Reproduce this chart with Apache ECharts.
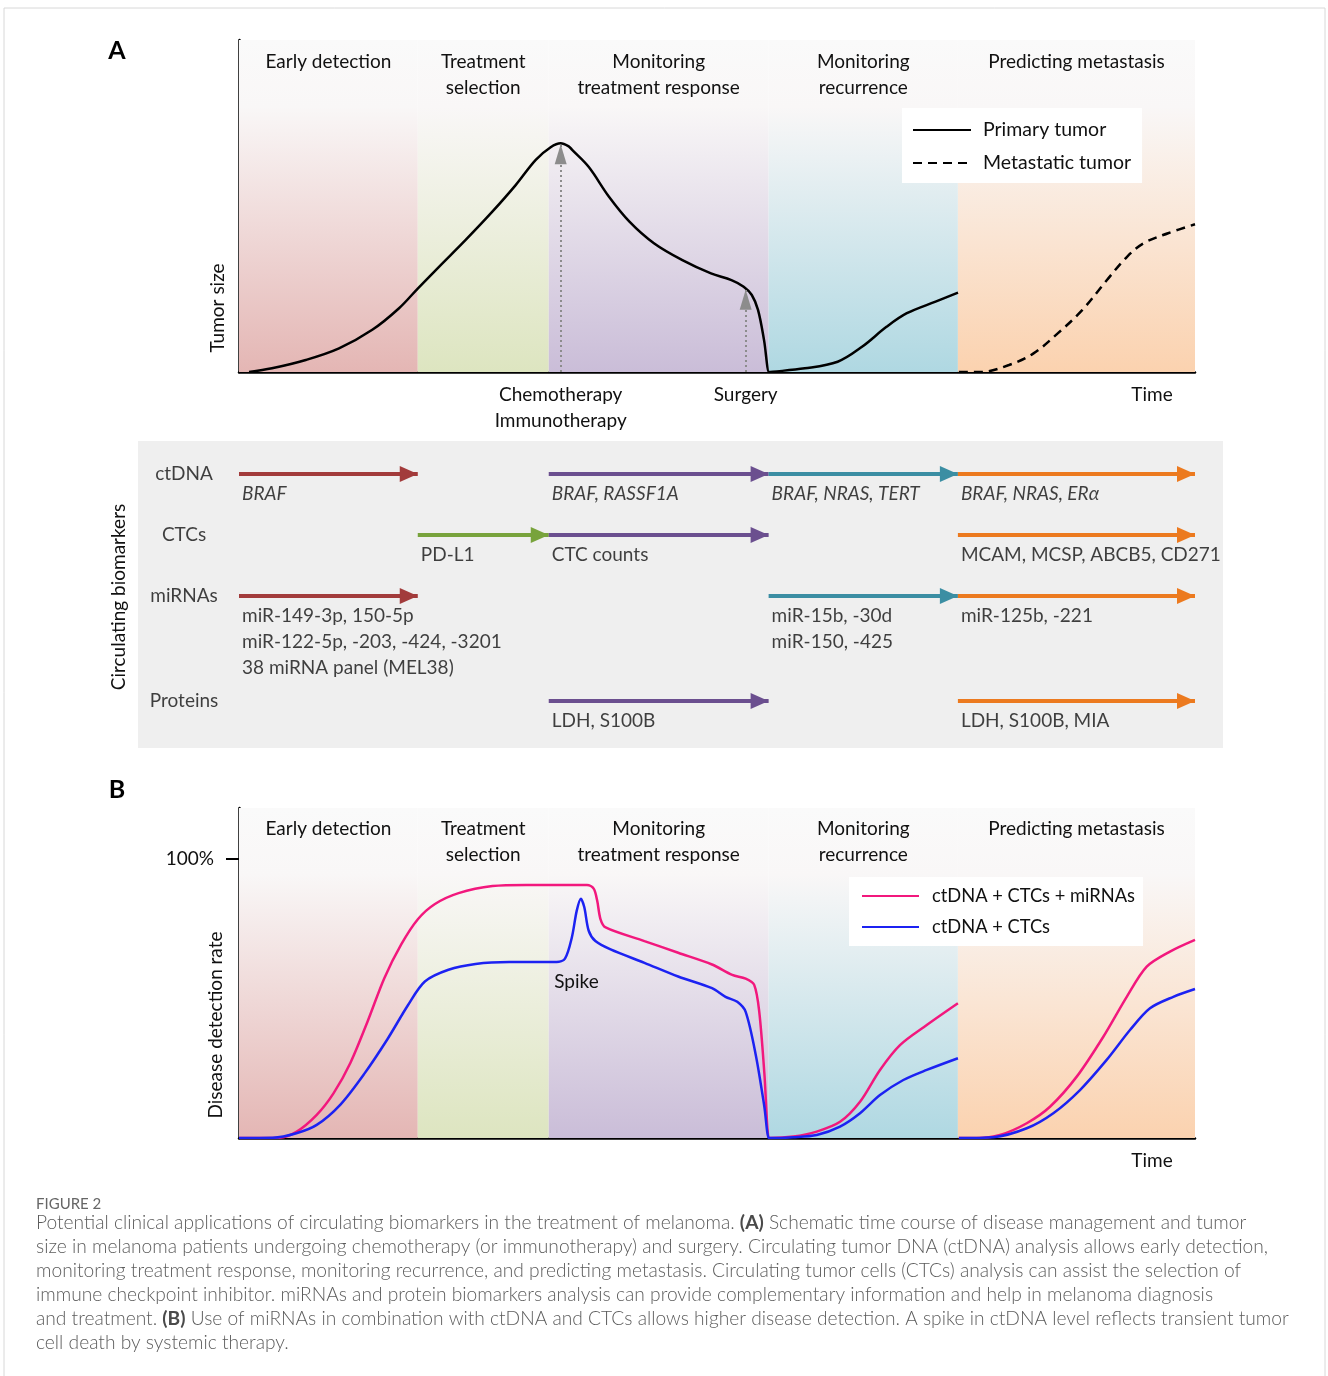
<!DOCTYPE html>
<html>
<head>
<meta charset="utf-8">
<title>Circulating biomarkers in melanoma</title>
<script src="https://cdn.jsdelivr.net/npm/echarts@6.0.0/dist/echarts.min.js"></script>
<style>
  html, body { margin: 0; padding: 0; background: #fff; }
  #chart { width: 1328px; height: 1376px; }
</style>
</head>
<body>
<div id="chart"></div>
<script>
// time axis runs 0..100 across both panels, phase edges on that scale
const xEdges = [0, 18.7, 32.4, 55.4, 75.2, 100];
const phaseNames = ['Early detection', 'Treatment\nselection', 'Monitoring\ntreatment response', 'Monitoring\nrecurrence', 'Predicting metastasis'];

// panel A: tumor size (0..100)
const primaryTumor = [
  [1.05, 0], [3.45, 1.1], [6.98, 3.6], [10.46, 7.1], [13.94, 12.7], [16.74, 19.2],
  [18.72, 25.2], [20.92, 31.7], [23.71, 39.8], [26.50, 48.3], [28.94, 56.3], [31.04, 63.9],
  [32.60, 67.7], [33.65, 68.9], [34.52, 67.9], [34.85, 66.9], [36.57, 61.8], [38.70, 52.8],
  [40.84, 45.3], [43.40, 38.8], [46.38, 33.7], [49.37, 29.7], [51.51, 27.7], [52.79, 25.7],
  [53.64, 23.2], [54.29, 18.7], [54.92, 9.6], [55.44, 0], [55.5, 0], [59.19, 1.1],
  [62.62, 3.1], [65.17, 7.6], [67.73, 13.6], [69.86, 17.7], [72.86, 21.2], [75.21, 23.9]
];
const metastaticTumor = [
  [75.3, 0], [77.57, 0], [80.54, 2.1], [83.11, 5.6], [85.67, 11.7], [88.22, 18.7],
  [90.79, 27.7], [92.89, 34.7], [94.63, 38.8], [97.18, 41.8], [100, 44.5]
];
const chemoArrow = [33.65, 68.6];
const surgeryArrow = [53.0, 24.8];

// middle panel: biomarker rows and arrows [row, phase]
const rowNames = ['ctDNA', 'CTCs', 'miRNAs', 'Proteins'];
const rowPos = [1, 2, 3, 4.72];
const arrows = [
  [0, 0], [0, 2], [0, 3], [0, 4],
  [1, 1], [1, 2], [1, 4],
  [2, 0], [2, 3], [2, 4],
  [3, 2], [3, 4]
];
const arrowLabels = [
  'BRAF', 'BRAF, RASSF1A', 'BRAF, NRAS, TERT', 'BRAF, NRAS, ERα',
  'PD-L1', 'CTC counts', 'MCAM, MCSP, ABCB5, CD271',
  'miR-149-3p, 150-5p\nmiR-122-5p, -203, -424, -3201\n38 miRNA panel (MEL38)', 'miR-15b, -30d\nmiR-150, -425', 'miR-125b, -221',
  'LDH, S100B', 'LDH, S100B, MIA'
];

// panel B: disease detection rate (%)
const comboAll = [
  [0, 0], [2.12, 0], [4.24, 0.1], [6.00, 2.2], [8.13, 8.3], [9.90, 16.1], [11.66, 27.0],
  [13.43, 41.6], [15.20, 57.3], [16.97, 69.4], [18.73, 78.5], [20.50, 83.9], [22.97, 87.8],
  [26.51, 90.3], [30.04, 90.7], [36.40, 90.7], [37.10, 89.4], [37.46, 85.2], [37.81, 78.5],
  [38.35, 75.5], [42.41, 70.6], [45.94, 66.4], [49.48, 62.2], [51.59, 58.5], [53.00, 57.1],
  [53.89, 54.9], [54.42, 45.2], [54.95, 23.4], [55.41, 0], [55.5, 0], [57.98, 0.5],
  [60.43, 2.3], [62.87, 5.8], [64.96, 13.0], [67.05, 24.4], [69.14, 33.3], [71.94, 40.5], [75.2, 48.3]
];
const comboAllMet = [
  [75.3, 0], [77.17, 0], [79.60, 1.1], [82.40, 5.3], [84.83, 11.2], [87.63, 22.0],
  [90.41, 36.3], [92.86, 50.6], [94.95, 61.4], [97.38, 66.8], [100, 71.0]
];
const ctdnaCtc = [
  [0, 0], [3.54, 0.1], [6.00, 1.7], [8.13, 4.7], [10.61, 12.0], [13.08, 22.9], [15.54, 35.5],
  [17.67, 47.6], [19.44, 56.1], [21.91, 60.3], [24.74, 62.4], [28.27, 63.1], [33.22, 63.1],
  [34.10, 64.3], [34.81, 71.8], [35.33, 81.5], [35.76, 85.8], [36.12, 82.7], [36.58, 74.3],
  [37.28, 70.6], [38.87, 67.6], [42.41, 62.8], [45.94, 57.9], [49.48, 53.7], [50.89, 50.6],
  [52.12, 48.8], [53.00, 45.2], [54.07, 29.5], [54.95, 11.3], [55.41, 0], [55.5, 0],
  [57.98, 0.3], [60.43, 1.1], [62.87, 4.1], [64.96, 8.9], [67.05, 15.4], [69.49, 20.8],
  [71.94, 24.4], [75.2, 28.6]
];
const ctdnaCtcMet = [
  [75.3, 0], [78.90, 0.3], [82.40, 3.5], [85.18, 8.9], [87.97, 17.2], [90.76, 28.0],
  [93.20, 38.7], [95.29, 46.5], [97.73, 50.6], [100, 53.4]
];
const spikeLabelAt = [35.3, 56];

const FONT = 'Lato';
const TXT = '#111';
const phaseColors = ['#a23b3b', '#78a33c', '#6b4f8f', '#3b8ea3', '#ec7a1f'];
const bandColors = ['#e4b6b4', '#dde5c0', '#cabdd8', '#afd8e2', '#fbd2af'];
const pink = '#f2187d';
const blue = '#1c22f2';
const NOSYM = 'rgba(0,0,0,0)';
// triangle whose tip sits at the symbol centre, so arrows end exactly on their coordinate
const headBig = 'path://M-20,-20 M20,20 M0,0 L8,18 L-8,18 Z';
const headThin = 'path://M-20,-20 M20,20 M0,0 L6,20 L-6,20 Z';

function bandGrad(c) {
  return {
    type: 'linear', x: 0, y: 0, x2: 0, y2: 1,
    colorStops: [
      { offset: 0, color: '#fafafa' },
      { offset: 0.2, color: '#f9f7f7' },
      { offset: 1, color: c }
    ]
  };
}

function bands(dist) {
  return {
    silent: true,
    label: {
      show: true, position: 'insideTop', distance: dist, color: TXT,
      fontFamily: FONT, fontSize: 19, lineHeight: 26
    },
    data: phaseNames.map((n, i) => [
      { name: n, xAxis: xEdges[i], itemStyle: { color: bandGrad(bandColors[i]) } },
      { xAxis: xEdges[i + 1] }
    ])
  };
}

const axisBlack = { show: true, lineStyle: { color: '#000', width: 2.5 } };

const chart = echarts.init(document.getElementById('chart'));

chart.setOption({
  backgroundColor: '#fff',
  animation: false,
  textStyle: { fontFamily: FONT },
  grid: [
    { left: 239, top: 40, width: 956, height: 332 },
    { left: 138, top: 441, width: 1085, height: 307, show: true, backgroundColor: '#efefef', borderWidth: 0 },
    { left: 239, top: 808, width: 956, height: 330 }
  ],
  xAxis: [
    { gridIndex: 0, type: 'value', min: 0, max: 100, axisLine: axisBlack, axisTick: { show: false }, axisLabel: { show: false }, splitLine: { show: false } },
    { gridIndex: 1, type: 'value', min: -10.565, max: 102.93, show: false },
    { gridIndex: 2, type: 'value', min: 0, max: 100, axisLine: axisBlack, axisTick: { show: false }, axisLabel: { show: false }, splitLine: { show: false } }
  ],
  yAxis: [
    { gridIndex: 0, type: 'value', min: 0, max: 100, axisLine: axisBlack, axisTick: { show: false }, axisLabel: { show: false }, splitLine: { show: false } },
    { gridIndex: 1, type: 'value', min: 0.46, max: 5.49, inverse: true, show: false },
    {
      gridIndex: 2, type: 'value', min: 0, max: 118.3, interval: 100,
      axisLine: axisBlack,
      axisTick: { show: true, customValues: [100], length: 13, lineStyle: { color: '#000', width: 2 } },
      axisLabel: { show: true, customValues: [100], formatter: '{value}%', color: TXT, fontSize: 19, fontFamily: FONT, margin: 25 },
      splitLine: { show: false }
    }
  ],
  legend: [
    {
      data: ['Primary tumor', 'Metastatic tumor'],
      orient: 'vertical', left: 902, top: 108,
      backgroundColor: '#fff', padding: [12, 11, 10, 10],
      itemWidth: 58, itemHeight: 20, itemGap: 13,
      textStyle: { fontSize: 19.5, color: TXT, fontFamily: FONT, padding: [0, 0, 0, 7] }
    },
    {
      data: ['ctDNA + CTCs + miRNAs', 'ctDNA + CTCs'],
      orient: 'vertical', left: 849, top: 877,
      backgroundColor: '#fff', padding: [10, 8, 10, 12],
      itemWidth: 57, itemHeight: 20, itemGap: 13,
      textStyle: { fontSize: 18.3, color: TXT, fontFamily: FONT, padding: [0, 0, 0, 8] }
    }
  ],
  series: [
    // panel A
    { type: 'line', xAxisIndex: 0, yAxisIndex: 0, data: [], silent: true, z: 1, markArea: bands(9) },
    {
      name: 'Primary tumor', type: 'line', xAxisIndex: 0, yAxisIndex: 0, z: 3,
      data: primaryTumor, smooth: 0.35, symbol: 'none',
      lineStyle: { color: '#000', width: 2.5 }, itemStyle: { color: NOSYM },
      markLine: {
        silent: true, symbol: ['none', headThin], symbolSize: 40,
        lineStyle: { color: '#8c8c8c', type: [2, 3], width: 2 },
        label: { show: true, position: 'start', distance: 10, formatter: '{b}', color: TXT, fontSize: 19, lineHeight: 26, fontFamily: FONT },
        data: [
          [{ name: 'Chemotherapy\nImmunotherapy', coord: [chemoArrow[0], 0] }, { coord: chemoArrow }],
          [{ name: 'Surgery', coord: [surgeryArrow[0], 0] }, { coord: surgeryArrow }]
        ]
      }
    },
    {
      name: 'Metastatic tumor', type: 'line', xAxisIndex: 0, yAxisIndex: 0, z: 3,
      data: metastaticTumor, smooth: 0.35, symbol: 'none',
      lineStyle: { color: '#000', width: 2.5, type: [9, 6] }, itemStyle: { color: NOSYM }
    },
    // middle panel arrows
    {
      type: 'lines', coordinateSystem: 'cartesian2d', xAxisIndex: 1, yAxisIndex: 1, silent: true,
      symbol: ['none', headBig], symbolSize: 40,
      lineStyle: { width: 4, opacity: 1 },
      data: arrows.map(a => ({
        coords: [[xEdges[a[1]], rowPos[a[0]]], [xEdges[a[1] + 1], rowPos[a[0]]]],
        lineStyle: { color: phaseColors[a[1]] }
      }))
    },
    {
      type: 'scatter', xAxisIndex: 1, yAxisIndex: 1, silent: true, symbolSize: 0,
      label: { show: true, position: [3, 7], align: 'left', verticalAlign: 'top', color: TXT, fontSize: 19, lineHeight: 26, fontFamily: FONT },
      data: arrows.map((a, i) => ({
        value: [xEdges[a[1]], rowPos[a[0]]],
        label: { formatter: arrowLabels[i], fontStyle: a[0] === 0 ? 'italic' : 'normal' }
      }))
    },
    {
      type: 'scatter', xAxisIndex: 1, yAxisIndex: 1, silent: true, symbolSize: 0,
      label: { show: true, position: 'inside', formatter: '{b}', color: TXT, fontSize: 19, fontFamily: FONT },
      data: rowNames.map((n, i) => ({ name: n, value: [-5.75, rowPos[i]] }))
    },
    // panel B
    { type: 'line', xAxisIndex: 2, yAxisIndex: 2, data: [], silent: true, z: 1, markArea: bands(8) },
    {
      name: 'ctDNA + CTCs + miRNAs', type: 'line', xAxisIndex: 2, yAxisIndex: 2, z: 3,
      data: comboAll, smooth: 0.3, symbol: 'none',
      lineStyle: { color: pink, width: 2.5 }, itemStyle: { color: NOSYM }
    },
    {
      name: 'ctDNA + CTCs + miRNAs', type: 'line', xAxisIndex: 2, yAxisIndex: 2, z: 3,
      data: comboAllMet, smooth: 0.3, symbol: 'none',
      lineStyle: { color: pink, width: 2.5 }, itemStyle: { color: NOSYM }
    },
    {
      name: 'ctDNA + CTCs', type: 'line', xAxisIndex: 2, yAxisIndex: 2, z: 4,
      data: ctdnaCtc, smooth: 0.3, symbol: 'none',
      lineStyle: { color: blue, width: 2.5 }, itemStyle: { color: NOSYM },
      markPoint: {
        silent: true, symbol: 'circle', symbolSize: 0,
        label: { show: true, position: 'inside', formatter: 'Spike', color: TXT, fontSize: 19, fontFamily: FONT },
        data: [{ coord: spikeLabelAt }]
      }
    },
    {
      name: 'ctDNA + CTCs', type: 'line', xAxisIndex: 2, yAxisIndex: 2, z: 4,
      data: ctdnaCtcMet, smooth: 0.3, symbol: 'none',
      lineStyle: { color: blue, width: 2.5 }, itemStyle: { color: NOSYM }
    }
  ],
  graphic: [
    { type: 'rect', silent: true, shape: { x: 4, y: 8, width: 1321, height: 1400 }, style: { fill: 'none', stroke: '#d8d8d8', lineWidth: 1 } },
    { type: 'text', x: 117, y: 51, style: { text: 'A', font: 'bold 25px Lato', fill: '#000', align: 'center', verticalAlign: 'middle' } },
    { type: 'text', x: 117, y: 790, style: { text: 'B', font: 'bold 25px Lato', fill: '#000', align: 'center', verticalAlign: 'middle' } },
    { type: 'text', x: 218, y: 308, rotation: Math.PI / 2, style: { text: 'Tumor size', font: '19px Lato', fill: TXT, align: 'center', verticalAlign: 'middle' } },
    { type: 'text', x: 119, y: 597, rotation: Math.PI / 2, style: { text: 'Circulating biomarkers', font: '19px Lato', fill: TXT, align: 'center', verticalAlign: 'middle' } },
    { type: 'text', x: 216, y: 1025, rotation: Math.PI / 2, style: { text: 'Disease detection rate', font: '19px Lato', fill: TXT, align: 'center', verticalAlign: 'middle' } },
    { type: 'text', x: 1152, y: 395, style: { text: 'Time', font: '19px Lato', fill: TXT, align: 'center', verticalAlign: 'middle' } },
    { type: 'text', x: 1152, y: 1161, style: { text: 'Time', font: '19px Lato', fill: TXT, align: 'center', verticalAlign: 'middle' } },
    { type: 'text', x: 36, y: 1204, style: { text: 'FIGURE 2', font: '15px Lato', fill: '#666', verticalAlign: 'middle' } },
    {
      type: 'text', x: 36, y: 1211,
      style: {
        text: 'Potential clinical applications of circulating biomarkers in the treatment of melanoma. {b|(A)} Schematic time course of disease management and tumor\n' +
          'size in melanoma patients undergoing chemotherapy (or immunotherapy) and surgery. Circulating tumor DNA (ctDNA) analysis allows early detection,\n' +
          'monitoring treatment response, monitoring recurrence, and predicting metastasis. Circulating tumor cells (CTCs) analysis can assist the selection of\n' +
          'immune checkpoint inhibitor. miRNAs and protein biomarkers analysis can provide complementary information and help in melanoma diagnosis\n' +
          'and treatment. {b|(B)} Use of miRNAs in combination with ctDNA and CTCs allows higher disease detection. A spike in ctDNA level reflects transient tumor\n' +
          'cell death by systemic therapy.',
        fontFamily: FONT, fontSize: 19.2, fontWeight: 300, fill: '#5c5c5c', lineHeight: 24,
        rich: { b: { fontFamily: FONT, fontSize: 19.2, fontWeight: 'bold', fill: '#4a4a4a', lineHeight: 24 } }
      }
    }
  ]
});

window.addEventListener('resize', () => chart.resize());
</script>
</body>
</html>
